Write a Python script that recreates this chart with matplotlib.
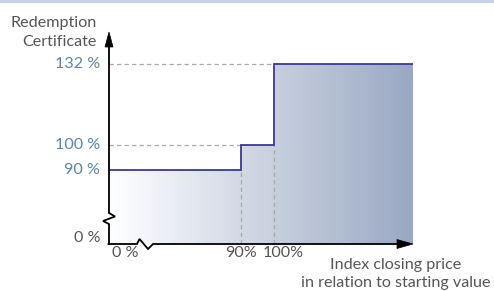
import numpy as np
import matplotlib
matplotlib.use("Agg")
import matplotlib.pyplot as plt
from matplotlib.transforms import Affine2D
from matplotlib.lines import Line2D
from matplotlib.patches import Polygon, Rectangle
from matplotlib.colors import LinearSegmentedColormap

# ---- data ----
barriers = [90, 100]            # index closing price levels (% of starting value)
payouts = [90, 100, 132]        # redemption (% of nominal)
x_start, x_end = 50, 142.6      # visible range of index axis (broken at left)
y_floor = 60.7                  # visible bottom of payout axis (broken)
y_labels = ["132 %", "100 %", "90 %"]
x_labels = ["90%", "100%"]

W, H = 494, 291
fig = plt.figure(figsize=(W / 100, H / 100), dpi=100)
fig.patch.set_facecolor("white")

ax = fig.add_axes([109 / W, 47 / H, 304 / W, 212 / H])
ax.set_xlim(50, 142.1)
ax.set_ylim(y_floor, 144.7)
ax.axis("off")

FONT = "Lato"
FW = "normal"
TXT_BLUE = "#5586ae"
TXT_GRAY = "#555555"
LINE_C = "#3b3896"

# step profile
xs = [x_start] + barriers + [x_end]
ys = payouts + [payouts[-1]]
poly = ax.fill_between(xs, ys, y_floor, step="post", color="none", lw=0)
path = poly.get_paths()[0]
clip = Polygon(path.vertices, closed=True, transform=ax.transData, facecolor="none", edgecolor="none")
ax.add_patch(clip)
cmap = LinearSegmentedColormap.from_list("g", ["#ffffff", "#98a7c2"])
grad = np.linspace(0, 1, 256).reshape(1, -1)
im = ax.imshow(grad, cmap=cmap, extent=[x_start, x_end, y_floor, max(payouts)],
               aspect="auto", origin="lower", zorder=1, interpolation="bilinear")
im.set_clip_path(clip)

ax.step(xs, ys, where="post", color=LINE_C, lw=1.3, zorder=4, solid_joinstyle="miter")

# dashed guides
dash_kw = dict(color="#a9a9a9", lw=0.9, ls=(0, (3.5, 2.5)), zorder=2)
ax.plot([x_start, barriers[0]], [payouts[1], payouts[1]], **dash_kw)
ax.plot([x_start, barriers[1]], [payouts[2], payouts[2]], **dash_kw)
ax.plot([barriers[0], barriers[0]], [y_floor, payouts[0]], **dash_kw)
ax.plot([barriers[1], barriers[1]], [y_floor, payouts[1]], **dash_kw)

# ---- axes drawn in pixel coordinates ----
pix = Affine2D().scale(1 / W, -1 / H).translate(0, 1) + fig.transFigure
lw_ax = 1.3
fig.add_artist(Line2D([109, 109, 103, 115, 109, 109],
                      [244, 224, 221, 216.5, 213, 44], transform=pix, color="black", lw=lw_ax,
                      solid_joinstyle="miter", zorder=5))
fig.add_artist(Polygon([[109, 32], [105, 47], [113, 47]], closed=True, transform=pix,
                       facecolor="black", edgecolor="black", lw=0.5, zorder=5))
fig.add_artist(Line2D([108.5, 137, 139.5, 148, 153, 400],
                      [244, 244, 239, 249, 244, 244], transform=pix, color="black", lw=lw_ax,
                      solid_joinstyle="miter", zorder=5))
fig.add_artist(Polygon([[413, 244], [397, 239.5], [397, 248.5]], closed=True, transform=pix,
                       facecolor="black", edgecolor="black", lw=0.5, zorder=5))

# top band
fig.add_artist(Rectangle((0, 0), W, 3, transform=pix, facecolor="#c6d2e3", edgecolor="none"))

# ---- text ----
fs = 11.6
tk = dict(fontsize=fs, family=FONT, fontweight=FW)
for lab, val in zip(y_labels, sorted(payouts, reverse=True)):
    ax.annotate(lab, xy=(x_start, val), xytext=(-9 * 0.72, 0), textcoords="offset points",
                ha="right", va="center", color=TXT_BLUE, **tk)
ax.annotate("0 %", xy=(x_start, y_floor), xytext=(-9 * 0.72, 6 * 0.72), textcoords="offset points",
            ha="right", va="center", color=TXT_GRAY, **tk)

fig.text(125 / W, 1 - 253 / H, "0 %", ha="center", va="center", color=TXT_GRAY, **tk)
ax.annotate(x_labels[0], xy=(barriers[0], y_floor), xytext=(0, -9 * 0.72), textcoords="offset points",
            ha="center", va="center", color=TXT_GRAY, **tk)
ax.annotate(x_labels[1], xy=(barriers[1], y_floor), xytext=(9 * 0.72, -9 * 0.72), textcoords="offset points",
            ha="center", va="center", color=TXT_GRAY, **tk)

fig.text(97 / W, 1 - 23 / H, "Redemption", ha="right", va="center", color=TXT_GRAY, **tk)
fig.text(97 / W, 1 - 42 / H, "Certificate", ha="right", va="center", color=TXT_GRAY, **tk)
fig.text(396 / W, 1 - 265 / H, "Index closing price", ha="center", va="center", color=TXT_GRAY, **tk)
fig.text(490 / W, 1 - 283 / H, "in relation to starting value", ha="right", va="center",
         color=TXT_GRAY, **tk)

fig.savefig("out.png", dpi=100, facecolor="white")
